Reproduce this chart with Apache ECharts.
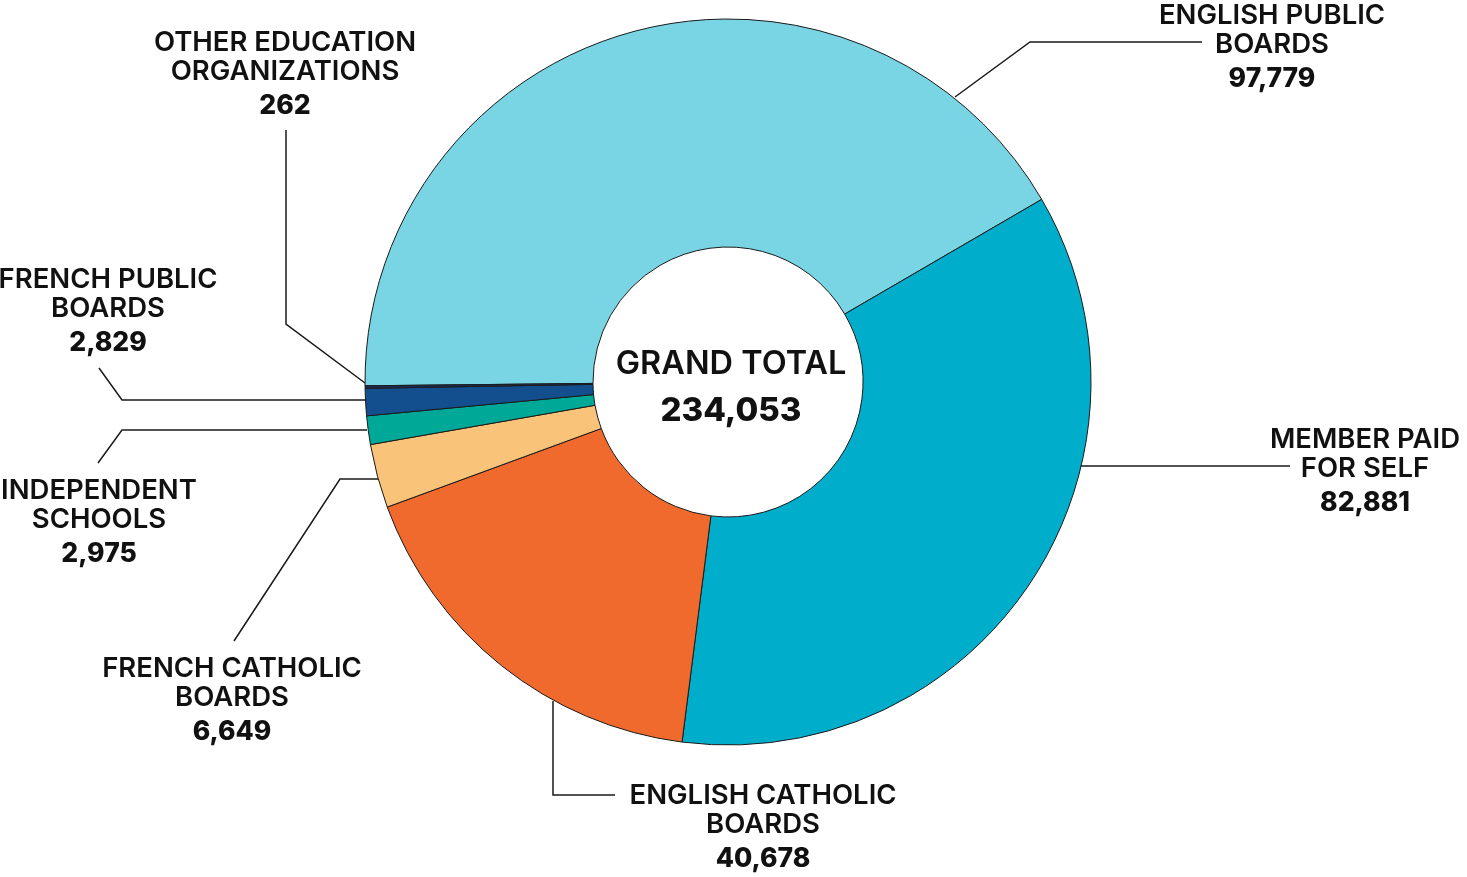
<!DOCTYPE html>
<html>
<head>
<meta charset="utf-8">
<script src="https://cdn.jsdelivr.net/npm/echarts@6/dist/echarts.min.js"></script>
<style>
  html, body { margin: 0; padding: 0; background: #fff; }
  #chart { width: 1467px; height: 877px; }
</style>
</head>
<body>
<div id="chart"></div>
<script>
// categories in drawing order, clockwise from 9 o'clock
const categories = [
  'ENGLISH PUBLIC\nBOARDS',
  'MEMBER PAID\nFOR SELF',
  'ENGLISH CATHOLIC\nBOARDS',
  'FRENCH CATHOLIC\nBOARDS',
  'INDEPENDENT\nSCHOOLS',
  'FRENCH PUBLIC\nBOARDS',
  'OTHER EDUCATION\nORGANIZATIONS'
]
const values = [97779, 82881, 40678, 6649, 2975, 2829, 262]
const colors = ['#79d4e3', '#00adcb', '#f16a2d', '#f9c47a', '#00a898', '#134e8e', '#1b2d5a']

// where each label sits (center x, top of first line) and its leader line
const labelPos = [
  [1272, 1], [1365, 425], [763, 781], [232, 654], [99, 476], [108, 265], [285, 28]
]
const leaderLines = [
  [[955, 97], [1030, 42], [1202, 42]],
  [[1080, 466], [1185, 466], [1290, 466]],
  [[553, 701], [553, 795], [615, 795]],
  [[378, 479], [340, 479], [234, 641]],
  [[367, 430], [122, 430], [98, 463]],
  [[365, 400], [122, 400], [99, 368]],
  [[365, 383], [286, 324], [286, 130]]
]

const fmt = v => v.toLocaleString('en-US')
const total = values.reduce((a, b) => a + b, 0)
const font = 'Inter, Lato, sans-serif'

const chart = echarts.init(document.getElementById('chart'))
chart.setOption({
  animation: false,
  graphic: [
    { type: 'text', x: 731, y: 364, style: { text: 'GRAND TOTAL', font: '600 32.5px ' + font, fill: '#111', align: 'center', verticalAlign: 'middle' } },
    { type: 'text', x: 731, y: 411, style: { text: fmt(total), font: '800 33px ' + font, fill: '#111', align: 'center', verticalAlign: 'middle' } }
  ],
  series: [{
    type: 'pie',
    center: [728, 382],
    radius: [135, 363],
    startAngle: 180.6,
    clockwise: true,
    avoidLabelOverlap: false,
    itemStyle: { borderColor: '#1a1a1a', borderWidth: 1 },
    emphasis: { disabled: true },
    label: {
      show: true,
      position: 'outside',
      color: '#111',
      fontFamily: font,
      formatter: p => p.name.split('\n').map(s => '{n|' + s + '}').join('\n') + '\n{v|' + fmt(p.value) + '}',
      rich: {
        n: { fontSize: 27.5, lineHeight: 29, fontWeight: 600, fontFamily: font, color: '#111', align: 'center' },
        v: { fontSize: 26.5, lineHeight: 41, fontWeight: 800, fontFamily: font, color: '#111', align: 'center' }
      }
    },
    labelLine: { show: true, lineStyle: { color: '#1a1a1a', width: 1.5 } },
    labelLayout: p => ({
      x: labelPos[p.dataIndex][0],
      y: labelPos[p.dataIndex][1],
      align: 'center',
      verticalAlign: 'top',
      labelLinePoints: leaderLines[p.dataIndex]
    }),
    data: categories.map((c, i) => ({ name: c, value: values[i], itemStyle: { color: colors[i] } }))
  }]
})
</script>
</body>
</html>
